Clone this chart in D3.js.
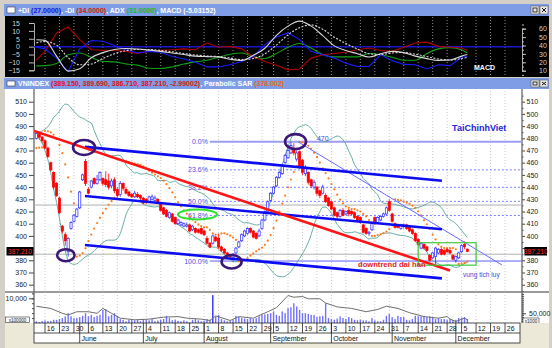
<!DOCTYPE html>
<html><head><meta charset="utf-8">
<script src="https://cdn.jsdelivr.net/npm/d3@7"></script>
<style>
body{margin:0;background:#d4d0c8}
svg{display:block}
text{font-family:"Liberation Sans",Arial,sans-serif}
</style>
</head><body>
<svg id="chart" width="552" height="348"></svg>
<script>
// ---------------- data: VNINDEX daily bars, 11 May 2011 .. 7 Dec 2011 ----------------
const firstDay = new Date(2011, 4, 11);
const lastDay = new Date(2011, 11, 30);
const closedDays = ["2011-09-02"];

const openP = [480,484,481,478,472,460,452,443,431,408, 401,387,406,412,416,423,446,461,438,440,
  447,443,446,447,446,445,441,446,438,434, 443,438,436,434,432,434,433,431,430,428,
  430,429,430,427,423,421,415,418,415,410, 409,408,408,409,405,406,405,406,404,398,
  394,394,399,398,391,389,386,384,382,386, 391,396,400,402,406,404,402,400,406,413,
  420,429,435,441,448,451,460,464,468,471, 463,469,462,451,452,446,440,440,437,435,
  433,431,428,423,419,416,421,418,421,420, 419,416,415,409,406,402,405,415,411,413,
  416,418,428,418,410,409,406,408,409,407, 405,402,397,390,393,391,384,382,383,386,
  389,388,389,388,384,380,382,387,393,389.15];
const highP = [486,485,482,479,473,461,453,444,432,409, 403,399,412,418,423,437,451,463,440,446,
  448,450,453,448,453,451,447,448,440,445, 444,440,437,435,437,436,434,432,431,433,
  434,433,431,428,424,422,420,419,416,414, 412,411,411,410,409,407,406,407,405,400,
  395,401,400,402,392,390,387,385,386,391, 396,402,405,407,407,405,403,406,414,421,
  429,436,441,449,453,459,467,472,477,476, 470,470,463,458,453,447,446,441,438,442,
  435,432,429,424,420,422,423,421,422,421, 420,417,416,410,407,404,411,416,416,417,
  419,424,430,419,411,410,410,410,410,408, 406,403,398,395,394,392,385,387,391,390,
  390,389,390,389,385,384,387,393,395.5,389.69];
const lowP = [479,479,476,471,464,453,438,432,418,402, 392,383,405,411,415,422,445,441,434,439,
  442,442,445,441,440,438,439,435,431,432, 437,434,432,431,431,431,429,426,426,427,
  429,428,426,420,417,415,414,411,409,409, 408,407,407,403,404,402,402,401,400,393,
  390,393,395,390,387,385,383,381,379,385, 390,395,399,401,402,398,397,399,405,412,
  419,428,434,440,447,450,459,463,467,466, 461,455,450,449,442,439,438,433,431,434,
  427,424,421,416,414,415,416,417,416,417, 414,412,410,402,401,400,404,409,410,412,
  415,417,420,411,406,406,405,406,405,403, 401,395,392,389,389,387,379,381,377,385,
  384,384,386,385,380,378,381,386,389,386.71];
const closeP = [484,481,478,472,465,454,440,433,419,404, 396,398,411,417,422,436,450,443,435,445,
  443,446,452,443,442,440,445,437,433,443, 439,435,433,432,435,432,431,427,428,432,
  432,431,427,421,418,416,419,412,410,413, 411,410,409,404,408,403,403,402,401,394,
  391,400,396,391,388,386,384,383,385,390, 395,401,404,406,403,399,398,404,413,420,
  428,435,440,448,452,458,466,470,474,468, 468,456,452,456,444,441,444,435,433,440,
  428,425,422,417,416,421,417,420,418,418, 415,413,411,403,402,403,410,410,415,416,
  418,423,421,412,407,407,409,409,406,404, 402,396,393,394,390,388,380,386,390,389,
  385,385,387,386,381,383,386,392,391,387.21];
const volume = [700,400,800,1100,800,900,1300,1300,1600,2000, 2700,4000,2700,2000,2100,2400,2900,4000,2700,3300,
  2400,2900,3300,5300,5600,2700,3300,4000,2900,1600, 1300,700,1300,1600,1100,1200,700,1600,1300,1100,
  1600,700,1000,1300,1600,2900,2000,1100,1300,900, 700,1100,700,300,1300,1600,1100,700,900,1600,
  1300,11300,2700,3300,1600,1100,700,900,1300,2900, 2400,2000,1800,1600,2000,1600,2000,2700,3300,3500,
  3700,4000,4700,3300,2900,4700,4000,6000,6400,8000, 6700,5300,4000,4000,3700,3300,3300,2400,2700,2900,
  8000,2000,1600,1300,1800,2700,2000,1600,2400,2000, 1300,1100,1300,1100,1100,700,2000,1100,700,700,
  1300,2900,3700,2400,1600,2900,2400,2400,1300,1100, 1600,2900,2700,2700,2900,2400,2700,2000,1600,2000,
  1600,1600,1300,1600,1100,1300,2000,2200,2400,1600];

// traded value line of the volume pane (session index, value)
const flowIdx = [-3,2,6,8,11,15,18,20,23,26,31,36,41,46,49,54,57,59,64,67,72,77,80,84,86,89,91,95,97,101,106,111,115,118,122,126,131,136,139,140,142,145,146];
const flowVal = [86500,75000,50000,41500,58000,58000,50000,75000,50000,25000,16500,20000,30000,33000,25000,20000,13000,36500,13000,33000,
  25000,58000,79000,141500,133000,136500,125000,125000,103000,83000,75000,58000,70000,86500,75000,53000,33000,25000,33000,20000,8000,25000,16500];

// oscillator pane (session index of each reading)
const oscIdx = [-3,0,4,8,12,16,20,24,28,32,36,40,44,48,52,56,60,64,68,72,76,80,84,88,92,96,100,104,108,112,116,120,124,128,132,136,140,144,146];
const macd = [4.4,4,-6,-15.5,-14,-7,-3.8,-1.8,-1.2,-1.5,-2.2,-3,-4,-5,-6,-6.3,-6.5,-8,-8.8,-5.5,-1,7.2,13,16.2,13,7,0.5,-2.5,-4.5,-6.6,-4.5,-3,-3.8,-6,-7.6,-8.7,-8.5,-6,-5.03152];
const macdSignal = [2.5,3.2,1,-7,-11.5,-11,-7.5,-4.5,-2.5,-1.8,-1.8,-2.4,-3.3,-4.3,-5.3,-5.9,-6.3,-7.2,-8.2,-7.5,-4.5,1,7.5,12,13.8,11,6,2,-1.5,-4.5,-5,-4,-3.7,-4.8,-6.3,-7.8,-8.5,-7.5,-6.8];
const plusDI = [38,36,25,9,36,46,45,40,35,31,33,32,27,24,20,14.5,14.5,17,21,27,41,50,55,47,33,29,25,19,15,15,29,22,17.5,17,12,17,16,26,27];
const minusDI = [22.5,33,55,62,47,35,34.4,34,33,30.5,33,34.4,35,36,35,43,38,39,36,26.4,21,16.6,11,12,25,29,30.5,32,35,37,34,33,38,43,44,39,38,37,34];
const adx = [15.7,16,18.6,29,31,26,21,20.5,18,16.6,13,12.6,14.5,18,20.5,22.5,26,29.5,31,27,24.5,30.5,38,42.4,37,29,26.4,26.4,26.4,30.5,29,26,22.5,22.5,30.5,36,37.5,35,31];

// drawing tools: [session, index level] end points
const trendRed = [[-3.8, 486], [140, 371.6]];
const channelTop = [[13.8, 473], [137.2, 445.2]];
const channelMid = [[13.8, 432.7], [137.2, 405.4]];
const channelLow = [[13.8, 392.5], [137.2, 365.2]];
const peakLine = [[87.4, 477.2], [158, 376.1]];
const supportLevels = [425.3, 385];
const fibHigh = 477.2, fibLow = 379.4, fibFrom = 57;
const fibRatios = [0, 0.236, 0.382, 0.5, 0.618, 1];
const fibLabels = ["0.0%", "23.6%", "38.2%", "50.0%", "61.8%", "100.0%"];
const markIdx = [13.5, 7.2, 64.5, 86.6];
const markVal = [472.5, 384.2, 378.8, 477.3];
const boxRange = {i0: 129, i1: 149, v0: 394.4, v1: 376};
const sarSeed = 472;
const priceTicks = d3.range(360, 511, 10);

// ---------------- calendar ----------------
const fmtKey = d3.timeFormat("%Y-%m-%d");
const days = [];
for (let d = new Date(firstDay); d <= lastDay; d.setDate(d.getDate() + 1)) {
  const wd = d.getDay();
  if (wd === 0 || wd === 6 || closedDays.includes(fmtKey(d))) continue;
  days.push(new Date(d));
}
const base = days.findIndex(d => +d === +new Date(2011, 4, 16));
const sess = k => k - base;
const weekTicks = [], monthTicks = [];
days.forEach((d, k) => {
  if (k === 0) return;
  const p = days[k - 1];
  if (+d3.timeMonday.floor(d) !== +d3.timeMonday.floor(p)) weekTicks.push({i: sess(k), label: String(d.getDate())});
  if (d.getMonth() !== p.getMonth()) monthTicks.push({i: sess(k), label: d3.timeFormat("%B")(d)});
});
const bars = closeP.map((c, k) => ({i: sess(k), o: openP[k], h: highP[k], l: lowP[k], c, v: volume[k]}));
const lastClose = closeP[closeP.length - 1];

// ---------------- scales ----------------
const L = 34, R = 522;
const x = d3.scaleLinear().domain([0, 159]).range([45, 505]);
const yP = d3.scaleLinear().domain([360, 510]).range([284.7, 101.7]);
const yM = d3.scaleLinear().domain([-15, 15]).range([70.3, 23]);
const yD = d3.scaleLinear().domain([10, 60]).range([70.7, 28.7]);
const yV = d3.scaleLinear().domain([0, 10000]).range([323, 298.3]);
const yF = d3.scaleLinear().domain([0, 50000]).range([323, 313.3]);

const svg = d3.select("#chart");
svg.append("rect").attr("width", 552).attr("height", 348).attr("fill", "#d4d0c8");
const defs = svg.append("defs");
defs.append("clipPath").attr("id", "cTop").append("rect").attr("x", L).attr("y", 16).attr("width", R - L).attr("height", 61);
defs.append("clipPath").attr("id", "cMain").append("rect").attr("x", L).attr("y", 89).attr("width", R - L).attr("height", 202);

// ---------------- window chrome ----------------
function titleBar(y, h, parts) {
  svg.append("rect").attr("x", 4).attr("y", y).attr("width", 545).attr("height", h).attr("fill", "#7f9de6");
  svg.append("rect").attr("x", 7).attr("y", y + 3).attr("width", 8).attr("height", h - 6).attr("fill", "#fff").attr("stroke", "#334").attr("stroke-width", 0.6);
  const t = svg.append("text").attr("x", 18).attr("y", y + h - 3).attr("font-size", 7).attr("font-weight", "bold");
  parts.forEach(([s, c]) => t.append("tspan").attr("fill", c).text(s));
  [531, 540].forEach((bx, j) => {
    svg.append("rect").attr("x", bx).attr("y", y + 2).attr("width", 8).attr("height", h - 4).attr("fill", "#e8e8e8").attr("stroke", "#555").attr("stroke-width", 0.6);
    if (j === 0) svg.append("rect").attr("x", bx + 2).attr("y", y + 4).attr("width", 4).attr("height", h - 8).attr("fill", "none").attr("stroke", "#111").attr("stroke-width", 0.8);
    else {
      svg.append("line").attr("x1", bx + 2).attr("y1", y + 4).attr("x2", bx + 6).attr("y2", y + h - 4).attr("stroke", "#111");
      svg.append("line").attr("x1", bx + 6).attr("y1", y + 4).attr("x2", bx + 2).attr("y2", y + h - 4).attr("stroke", "#111");
    }
  });
}
titleBar(4, 12, [["+DI ", "#fff"], ["(27.0000)", "#1414d8"], [", -DI ", "#fff"], ["(34.0000)", "#e01010"], [", ADX ", "#fff"], ["(31.0000)", "#10c010"], [", MACD (-5.03152)", "#fff"]]);
titleBar(78, 11, [["VNINDEX ", "#fff"], ["(389.150, 389.690, 386.710, 387.210, -2.99002)", "#e01010"], [", Parabolic SAR ", "#fff"], ["(378.002)", "#ff5a14"]]);

// ---------------- oscillator pane ----------------
svg.append("rect").attr("x", 5).attr("y", 16).attr("width", 544).attr("height", 61).attr("fill", "#000");
const oscG = svg.append("g");
oscG.selectAll("line.g").data(weekTicks).join("line")
  .attr("x1", d => x(d.i)).attr("x2", d => x(d.i)).attr("y1", 17).attr("y2", 76)
  .attr("stroke", "#cfcfcf").attr("stroke-width", 0.7).attr("stroke-dasharray", "1,2");
const axTL = oscG.append("g").attr("transform", `translate(${L},0)`)
  .call(d3.axisLeft(yM).tickValues(d3.range(-15, 16, 5)).tickSize(5).tickPadding(9));
const axTR = oscG.append("g").attr("transform", `translate(${R},0)`)
  .call(d3.axisRight(yD).tickValues(d3.range(10, 61, 10)).tickSize(4).tickPadding(13));
const axTR2 = oscG.append("g").attr("transform", `translate(${R},0)`)
  .call(d3.axisRight(yD).tickValues(d3.range(5, 66, 5)).tickSize(2).tickFormat(""));
[axTL, axTR, axTR2].forEach(a => {
  a.select(".domain").attr("stroke", "#aaa");
  a.selectAll(".tick line").attr("stroke", "#bbb");
  a.selectAll("text").attr("fill", "#d0d0d0").attr("font-size", 7).attr("font-family", "Liberation Sans, Arial");
});
const oscPlot = oscG.append("g").attr("clip-path", "url(#cTop)");
oscPlot.append("line").attr("x1", L).attr("x2", R).attr("y1", yM(0)).attr("y2", yM(0)).attr("stroke", "#1818c8").attr("stroke-width", 1.5);
function oscLine(vals, scale, color, dash, curve) {
  oscPlot.append("path").datum(oscIdx.map((i, k) => [i, vals[k]]))
    .attr("d", d3.line().x(d => x(d[0])).y(d => scale(d[1])).curve(curve))
    .attr("fill", "none").attr("stroke", color).attr("stroke-width", 1.1).attr("stroke-dasharray", dash);
}
oscLine(adx, yD, "#12a012", null, d3.curveMonotoneX);
oscLine(minusDI, yD, "#b00000", null, d3.curveLinear);
oscLine(plusDI, yD, "#1a1aff", null, d3.curveLinear);
oscLine(macdSignal, yM, "#d8d8d8", "2,1.5", d3.curveMonotoneX);
oscLine(macd, yM, "#d8d8d8", null, d3.curveMonotoneX);
oscG.append("text").attr("x", 474).attr("y", 70).attr("font-size", 7).attr("font-weight", "bold").attr("fill", "#fff").text("MACD");

// ---------------- price pane ----------------
svg.append("rect").attr("x", 5).attr("y", 89).attr("width", 544).attr("height", 202).attr("fill", "#fff");
svg.append("rect").attr("x", 5).attr("y", 291).attr("width", 544).attr("height", 2).attr("fill", "#9a9a9a");
svg.append("rect").attr("x", 5).attr("y", 293).attr("width", 544).attr("height", 30).attr("fill", "#fff");

const priceG = svg.append("g");
priceG.selectAll("line.g").data(weekTicks).join("line")
  .attr("x1", d => x(d.i)).attr("x2", d => x(d.i)).attr("y1", 91).attr("y2", 322)
  .attr("stroke", "#b4b4b4").attr("stroke-width", 0.7).attr("stroke-dasharray", "1,2");

// the tick label nearest the last close sits under the close marker
const hiddenTick = priceTicks.reduce((a, b) => Math.abs(b - lastClose) < Math.abs(a - lastClose) ? b : a);
const priceFmt = v => v === hiddenTick ? "" : String(v);
const axPL = priceG.append("g").attr("transform", `translate(${L},0)`)
  .call(d3.axisLeft(yP).tickValues(priceTicks).tickSize(5).tickPadding(2).tickFormat(priceFmt));
const axPR = priceG.append("g").attr("transform", `translate(${R},0)`)
  .call(d3.axisRight(yP).tickValues(priceTicks).tickSize(3).tickPadding(1.5).tickFormat(priceFmt));
const axPR2 = priceG.append("g").attr("transform", `translate(${R},0)`)
  .call(d3.axisRight(yP).tickValues(d3.range(355, 516, 10)).tickSize(1.5).tickFormat(""));
[axPL, axPR, axPR2].forEach(a => {
  a.select(".domain").remove();
  a.selectAll(".tick line").attr("stroke", "#444");
  a.selectAll("text").attr("fill", "#222").attr("font-size", 7).attr("font-family", "Liberation Sans, Arial");
});
priceG.append("line").attr("x1", L).attr("x2", L).attr("y1", 89).attr("y2", 343).attr("stroke", "#666").attr("stroke-width", 1.3);
priceG.append("line").attr("x1", R).attr("x2", R).attr("y1", 89).attr("y2", 323).attr("stroke", "#666").attr("stroke-width", 1.3);

const plot = priceG.append("g").attr("clip-path", "url(#cMain)");
const seg = (p) => d3.line().x(d => x(d[0])).y(d => yP(d[1]))(p);

// horizontal support lines
plot.selectAll("line.s").data(supportLevels).join("line")
  .attr("x1", L).attr("x2", R).attr("y1", d => yP(d)).attr("y2", d => yP(d))
  .attr("stroke", "#b0b0b0").attr("stroke-width", 1);

// fibonacci retracement
const fib = fibRatios.map((r, k) => ({r, v: fibHigh - r * (fibHigh - fibLow), label: fibLabels[k]}));
plot.selectAll("line.f").data(fib).join("line")
  .attr("x1", x(fibFrom)).attr("x2", R).attr("y1", d => yP(d.v)).attr("y2", d => yP(d.v))
  .attr("stroke", d => d.r === 0 ? "#9c9cf4" : "#5c5cff")
  .attr("stroke-width", d => d.r === 0 ? 2 : (d.r === 1 ? 1 : 0.8))
  .attr("stroke-dasharray", d => (d.r === 0 || d.r === 1) ? null : "2,2");
plot.selectAll("text.f").data(fib).join("text")
  .attr("x", x(fibFrom) - 2).attr("y", d => yP(d.v) + 2.5).attr("text-anchor", "end")
  .attr("font-size", 7).attr("fill", "#5050e8").text(d => d.label);

// bollinger bands (20, 2)
const bands = closeP.map((c, k) => {
  const w = closeP.slice(Math.max(0, k - 19), k + 1);
  const m = d3.mean(w);
  const sd = Math.sqrt(d3.mean(w, v => (v - m) * (v - m)));
  return {i: sess(k), up: m + 2 * sd, lo: m - 2 * sd};
});
["up", "lo"].forEach(key => plot.append("path").datum(bands)
  .attr("d", d3.line().x(d => x(d.i)).y(d => yP(d[key])).curve(d3.curveMonotoneX))
  .attr("fill", "none").attr("stroke", "#66aca6").attr("stroke-width", 1));

// parabolic SAR
function parabolicSar(h, l, seed) {
  const step = 0.02, maxAf = 0.2, out = [seed];
  let up = true, af = step, ep = h[0], s = seed;
  for (let k = 1; k < h.length; k++) {
    s = s + af * (ep - s);
    if (up) {
      s = Math.min(s, l[k - 1], l[Math.max(0, k - 2)]);
      if (l[k] < s) { up = false; s = ep; ep = l[k]; af = step; }
      else if (h[k] > ep) { ep = h[k]; af = Math.min(af + step, maxAf); }
    } else {
      s = Math.max(s, h[k - 1], h[Math.max(0, k - 2)]);
      if (h[k] > s) { up = true; s = ep; ep = h[k]; af = step; }
      else if (l[k] < ep) { ep = l[k]; af = Math.min(af + step, maxAf); }
    }
    out.push(s);
  }
  return out;
}
const sar = parabolicSar(highP, lowP, sarSeed);
plot.selectAll("circle.sar").data(sar).join("circle")
  .attr("cx", (d, k) => x(sess(k))).attr("cy", d => yP(d)).attr("r", 1.1).attr("fill", "#ff7a1c");

// candles
const bw = 2.2;
plot.selectAll("line.w").data(bars).join("line")
  .attr("x1", d => x(d.i)).attr("x2", d => x(d.i)).attr("y1", d => yP(d.h)).attr("y2", d => yP(d.l))
  .attr("stroke", d => d.c >= d.o ? "#2828ff" : "#ff0000").attr("stroke-width", 0.8);
plot.selectAll("rect.b").data(bars).join("rect")
  .attr("x", d => x(d.i) - bw / 2).attr("y", d => yP(Math.max(d.o, d.c)))
  .attr("width", bw).attr("height", d => Math.max(0.8, Math.abs(yP(d.o) - yP(d.c))))
  .attr("fill", d => d.c >= d.o ? "#fff" : "#ff0000")
  .attr("stroke", d => d.c >= d.o ? "#2828ff" : "#ff0000").attr("stroke-width", 0.7);

// trend lines and channel
plot.append("path").attr("d", seg(peakLine)).attr("stroke", "#6a6aff").attr("stroke-width", 1).attr("fill", "none");
[channelTop, channelMid, channelLow].forEach(p => plot.append("path").attr("d", seg(p))
  .attr("stroke", "#0c0cf0").attr("stroke-width", 2.6).attr("fill", "none"));
plot.append("path").attr("d", seg(trendRed)).attr("stroke", "#ff1414").attr("stroke-width", 2.6).attr("fill", "none");

// accumulation box
plot.append("rect").attr("x", x(boxRange.i0)).attr("y", yP(boxRange.v0))
  .attr("width", x(boxRange.i1) - x(boxRange.i0)).attr("height", yP(boxRange.v1) - yP(boxRange.v0))
  .attr("fill", "none").attr("stroke", "#3cc83c").attr("stroke-width", 1.2);

// highlighted turning points
const radii = [[11, 7.5], [8.7, 6], [10, 6.7], [10.5, 7.5]];
plot.selectAll("ellipse.m").data(markIdx).join("ellipse")
  .attr("cx", d => x(d)).attr("cy", (d, k) => yP(markVal[k]))
  .attr("rx", (d, k) => radii[k][0]).attr("ry", (d, k) => radii[k][1])
  .attr("fill", "none").attr("stroke", "#3a1878").attr("stroke-width", 2.6);
plot.append("ellipse").attr("cx", x(52.7)).attr("cy", yP(fib[4].v) - 1).attr("rx", 19.5).attr("ry", 5)
  .attr("fill", "none").attr("stroke", "#2ee02e").attr("stroke-width", 2);

// annotations
plot.append("text").attr("x", x(140.7)).attr("y", yP(486)).attr("font-size", 9).attr("font-weight", "bold").attr("fill", "#2424d8").text("TaiChinhViet");
plot.append("text").attr("x", x(94)).attr("y", yP(478)).attr("font-size", 7).attr("fill", "#4040dc").text("470");
plot.append("text").attr("x", x(108.2)).attr("y", yP(374.6)).attr("font-size", 7.6).attr("font-weight", "bold").attr("fill", "#e41a1a").text("downtrend dai han");
plot.append("text").attr("x", x(144.5)).attr("y", yP(366.5)).attr("font-size", 6.6).attr("fill", "#4848d0").text("vung tich luy");

// last close markers
[[6.5, 27], [524.5, 22.5]].forEach(([bx, bwid]) => {
  svg.append("rect").attr("x", bx).attr("y", yP(lastClose) - 4.5).attr("width", bwid).attr("height", 8.5).attr("fill", "#000");
  svg.append("text").attr("x", bx + bwid / 2).attr("y", yP(lastClose) + 2.2).attr("text-anchor", "middle")
    .attr("font-size", 6.6).attr("fill", "#ff3030").text(d3.format(".3f")(lastClose));
});

// ---------------- volume pane ----------------
const volG = svg.append("g");
volG.selectAll("rect.v").data(bars).join("rect")
  .attr("x", d => x(d.i) - 0.7).attr("y", d => yV(d.v)).attr("width", 1.4).attr("height", d => yV(0) - yV(d.v))
  .attr("fill", d => d.v > 10000 ? "#3030ff" : "#7272ff");
volG.append("path").datum(flowIdx.map((i, k) => [i, flowVal[k]]))
  .attr("d", d3.line().x(d => x(d[0])).y(d => yF(d[1])))
  .attr("fill", "none").attr("stroke", "#6e6e6e").attr("stroke-width", 1);
const axVL = volG.append("g").attr("transform", `translate(${L},0)`)
  .call(d3.axisLeft(yV).tickValues([10000]).tickSize(5).tickPadding(2));
const axVL2 = volG.append("g").attr("transform", `translate(${L},0)`)
  .call(d3.axisLeft(yV).tickValues(d3.range(2000, 12001, 2000)).tickSize(2).tickFormat(""));
const axVR = volG.append("g").attr("transform", `translate(${R},0)`)
  .call(d3.axisRight(yF).tickValues([50000]).tickSize(4).tickPadding(3));
const axVR2 = volG.append("g").attr("transform", `translate(${R},0)`)
  .call(d3.axisRight(yF).tickValues(d3.range(10000, 150001, 10000)).tickSize(2).tickFormat(""));
[axVL, axVL2, axVR, axVR2].forEach(a => {
  a.select(".domain").remove();
  a.selectAll(".tick line").attr("stroke", "#444");
  a.selectAll("text").attr("fill", "#222").attr("font-size", 7).attr("font-family", "Liberation Sans, Arial");
});
[[5.5, 317, 24, "x100000"], [523, 318, 16, "x1000"]].forEach(([bx, by, bwid, s]) => {
  volG.append("rect").attr("x", bx).attr("y", by).attr("width", bwid).attr("height", 5.5).attr("fill", "#fff").attr("stroke", "#333").attr("stroke-width", 0.6);
  volG.append("text").attr("x", bx + bwid / 2).attr("y", by + 4.6).attr("text-anchor", "middle").attr("font-size", 4.6).attr("fill", "#111").text(s);
});

// ---------------- date axis ----------------
svg.append("rect").attr("x", 5).attr("y", 323).attr("width", 544).attr("height", 25).attr("fill", "#ece9d8");
const dateG = svg.append("g");
dateG.append("rect").attr("x", L).attr("y", 323).attr("width", 520 - L).attr("height", 20).attr("fill", "#fff").attr("stroke", "#222").attr("stroke-width", 0.8);
dateG.append("line").attr("x1", L).attr("x2", 520).attr("y1", 333).attr("y2", 333).attr("stroke", "#222").attr("stroke-width", 0.8);
dateG.selectAll("line.wk").data(weekTicks).join("line")
  .attr("x1", d => x(d.i)).attr("x2", d => x(d.i)).attr("y1", 323).attr("y2", 333).attr("stroke", "#222").attr("stroke-width", 0.8);
dateG.selectAll("text.wk").data(weekTicks).join("text")
  .attr("x", d => x(d.i) + 1.8).attr("y", 331).attr("font-size", 7).attr("fill", "#111").text(d => d.label);
dateG.selectAll("line.mo").data(monthTicks).join("line")
  .attr("x1", d => x(d.i)).attr("x2", d => x(d.i)).attr("y1", 323).attr("y2", 343).attr("stroke", "#222").attr("stroke-width", 0.8);
dateG.selectAll("text.mo").data(monthTicks).join("text")
  .attr("x", d => x(d.i) + 1.8).attr("y", 341).attr("font-size", 7).attr("fill", "#111").text(d => d.label);
</script>
</body></html>
